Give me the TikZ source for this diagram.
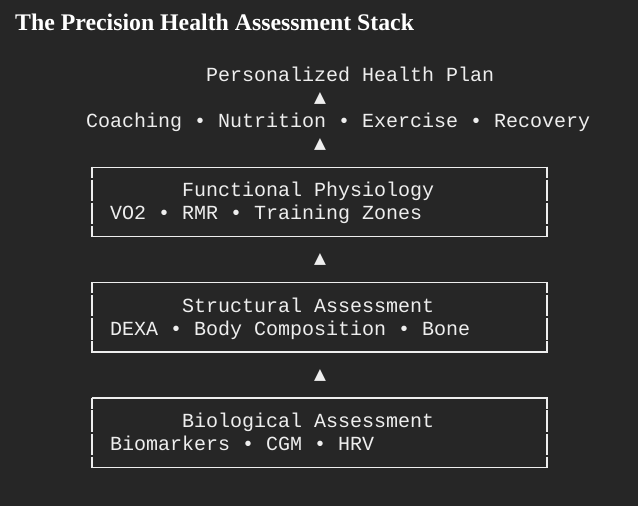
\documentclass[tikz,border=0pt]{standalone}
\usepackage{fontspec}
\setmainfont{Liberation Serif}
\setmonofont{Liberation Mono}
\newfontfamily\symfont{DejaVu Sans}
\definecolor{bgc}{HTML}{262626}
\definecolor{fgc}{HTML}{EEEEEE}
\begin{document}
\begin{tikzpicture}[x=1pt,y=-1pt,
  mono/.style={inner sep=0pt,anchor=base west,text=fgc,font=\ttfamily\fontsize{20}{23}\selectfont},
  tri/.style={inner sep=0pt,anchor=center,text=fgc,font=\symfont\fontsize{15.5}{18}\selectfont},
  hline/.style={draw=fgc,line width=1.3pt},
  vline/.style={draw=fgc,line width=1.7pt}]
\fill[bgc] (0,0) rectangle (638,506);
\useasboundingbox (0,0) rectangle (638,506);
\node[inner sep=0pt,anchor=base west,text=white,font=\bfseries\fontsize{23.8}{28}\selectfont] (title) at (15,30.5) {The Precision Health Assessment Stack};
\node[mono] (plan) at (206,81.5) {Personalized Health Plan};
\node[tri] (a1) at (320,98.1) {▲};
\node[mono] (svc) at (86,127.6) {Coaching • Nutrition • Exercise • Recovery};
\node[tri] (a2) at (320,144.2) {▲};
% box 1
\node[mono] (f1) at (182,196.8) {Functional Physiology};
\node[mono] (f2) at (110,219.9) {VO2 • RMR • Training Zones};
\node[tri] (a3) at (320,259.9) {▲};
% box 2
\node[mono] (s1) at (182,312.1) {Structural Assessment};
\node[mono] (s2) at (110,335.2) {DEXA • Body Composition • Bone};
\node[tri] (a4) at (320,375.2) {▲};
% box 3
\node[mono] (b1) at (182,427.4) {Biological Assessment};
\node[mono] (b2) at (110,450.5) {Biomarkers • CGM • HRV};
% box frames
\foreach \t in {167.3,282.8,398.1}{
  \pgfmathsetmacro{\b}{\t+69.2}
  \draw[hline] (91.5,\t) -- (548,\t);
  \draw[hline] (91.5,\b) -- (548,\b);
  \foreach \xx in {92,547}{
    \draw[vline] (\xx,\t-0.6) -- (\xx,\t+10.6);
    \draw[vline] (\xx,\t+12.3) -- (\xx,\t+33.6);
    \draw[vline] (\xx,\t+35.4) -- (\xx,\t+56.7);
    \draw[vline] (\xx,\t+58.5) -- (\xx,\b+0.6);
  }
}
\end{tikzpicture}
\end{document}
